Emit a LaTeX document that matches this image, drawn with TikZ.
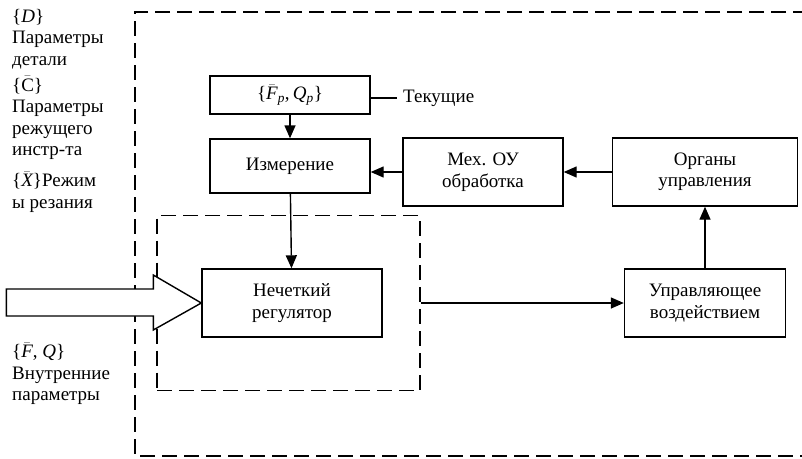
\documentclass[tikz,border=0pt]{standalone}
\usepackage{fontspec}
\setmainfont{Liberation Serif}
\usetikzlibrary{arrows.meta}

\begin{document}
\begin{tikzpicture}[
            x=1pt, y=-1pt,
            font=\fontsize{19}{21.5}\selectfont,
            block/.style={draw, line width=1.4pt, inner sep=0pt, align=center},
            frame/.style={line width=1.4pt, dash pattern=on 15pt off 7pt},
            link/.style={line width=1.4pt, -{Triangle[length=13pt,width=11pt]}},
            note/.style={anchor=north west, inner sep=0pt, align=left}
            ]
            \useasboundingbox (0,0) rectangle (802,458);
            \clip (0,0) rectangle (802,458);
            \draw[frame] (830,12) -- (135,12) -- (135,456) -- (830,456);

            \node[note] (det) at (12,9) {\{\textit{D}\}\\Параметры\\детали};
            \node[note] (ins) at (12,76) {\{$\bar{\mathrm{C}}$\}\\Параметры\\режущего\\инстр-та};
            \node[note] (rez) at (12,172) {\{$\bar{\mathit{X}}$\}Режим\\ы резания};
            \node[note] (vnu) at (12,343) {\{$\bar{\mathit{F}}$, \textit{Q}\}\\Внутренние\\параметры};

            \node[block, minimum width=160, minimum height=38] (fp) at (290,95) {\{$\bar{\mathit{F}}_{\mathit{p}}$,\,$\mathit{Q}_{\mathit{p}}$\}};
            \node[anchor=west, inner sep=6pt] (tek) at (397,98) {Текущие};
            \node[block, minimum width=160, minimum height=54] (izm) at (290,166) {Измерение};
            \node[block, minimum width=160, minimum height=68] (meh) at (483,172) {Мех. ОУ\\обработка};
            \node[block, minimum width=185, minimum height=68] (org) at (705,172) {Органы\\управления};
            \node[frame, draw, minimum width=263, minimum height=175] (zone) at (288.5,303) {};
            \node[block, fill=white, minimum width=180, minimum height=68] (reg) at (292,303) {Нечеткий\\регулятор};
            \node[block, minimum width=161, minimum height=68] (upr) at (705,303) {Управляющее\\воздействием};

            \draw[line width=1.4pt, fill=white] (reg.west) -- ++(-48,-28) -- ++(0,14) -- ++(-147,0)
              -- ++(0,27) -- ++(147,0) -- ++(0,14) -- cycle;

            \draw[line width=1.4pt] (fp.east |- tek.west) -- (tek.west);
            \draw[link] (fp) -- (izm);
            \draw[link] (meh.west) -- (meh.west -| izm.east);
            \draw[link] (org) -- (meh);
            \draw[link] (izm) -- (reg);
            \draw[link] (zone.east |- upr.west) -- (upr);
            \draw[link] (upr) -- (org);
\end{tikzpicture}
\end{document}
